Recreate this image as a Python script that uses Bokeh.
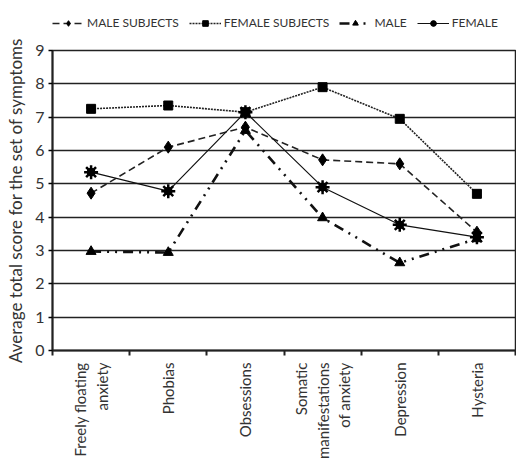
import math
from bokeh.plotting import figure
from bokeh.layouts import column
from bokeh.models import FixedTicker, Legend, LegendItem, Range1d
from bokeh.embed import file_html
from bokeh.resources import INLINE

categories = ["Freely floating\nanxiety", "Phobias", "Obsessions",
              "Somatic\nmanifestations\nof anxiety", "Depression", "Hysteria"]
male_subjects = [4.72, 6.1, 6.7, 5.72, 5.6, 3.55]
female_subjects = [7.25, 7.35, 7.15, 7.9, 6.95, 4.7]
male = [2.97, 2.94, 6.6, 3.98, 2.63, 3.35]
female = [5.35, 4.78, 7.15, 4.9, 3.77, 3.4]
y_ticks = list(range(0, 10))
series_names = ["MALE SUBJECTS", "FEMALE SUBJECTS", "MALE", "FEMALE"]

FONT = "Lato"
TXT = "#333333"
xs = [i + 1 for i in range(len(categories))]

styles = [
    dict(line=dict(line_color="#222222", line_width=1.6, line_dash="7 4"),
         marks=[dict(marker="diamond", size=12, fill_color="black", line_color="black")]),
    dict(line=dict(line_color="#222222", line_width=1.6, line_dash="2 1"),
         marks=[dict(marker="square", size=9, fill_color="black", line_color="black")]),
    dict(line=dict(line_color="#111111", line_width=2.6, line_dash="10 6 2 6 2 6"),
         marks=[dict(marker="triangle", size=10, fill_color="black", line_color="black")]),
    dict(line=dict(line_color="#111111", line_width=1.2),
         marks=[dict(marker="circle", size=8, fill_color="black", line_color="black"),
                dict(marker="asterisk", size=14, line_color="black", line_width=2.5)]),
]
series = [male_subjects, female_subjects, male, female]

W = 516
LEG_H = 34
MAIN_H = 428

# ---------- main chart ----------
p = figure(width=W, height=MAIN_H, output_backend="svg", toolbar_location=None,
           x_range=Range1d(0.5, len(categories) + 0.5), y_range=Range1d(0, 9),
           min_border_left=52, min_border_right=1, min_border_top=16, min_border_bottom=111)
p.outline_line_color = "#222222"
p.outline_line_width = 1.5

p.yaxis.ticker = FixedTicker(ticks=y_ticks)
p.yaxis.axis_label = "Average total score for the set of symptoms"
p.yaxis.axis_label_text_font = FONT
p.yaxis.axis_label_text_font_style = "normal"
p.yaxis.axis_label_text_font_size = "17px"
p.yaxis.axis_label_text_color = TXT
p.yaxis.major_label_text_font = FONT
p.yaxis.major_label_text_font_size = "16px"
p.yaxis.major_label_text_color = TXT
p.yaxis.axis_line_color = "#222222"
p.yaxis.axis_line_width = 2
p.yaxis.major_tick_in = 0
p.yaxis.major_tick_out = 4
p.yaxis.major_tick_line_width = 1.5
p.yaxis.minor_tick_line_color = None
p.yaxis.axis_label_standoff = 6
p.yaxis.major_label_standoff = 4

p.xaxis.ticker = FixedTicker(ticks=xs, minor_ticks=[x - 0.5 for x in xs] + [xs[-1] + 0.5])
p.xaxis.major_label_overrides = {x: c for x, c in zip(xs, categories)}
p.xaxis.major_label_orientation = math.pi / 2
p.xaxis.major_label_text_font = FONT
p.xaxis.major_label_text_font_size = "15px"
p.xaxis.major_label_text_color = TXT
p.xaxis.major_label_standoff = 6
p.xaxis.major_tick_line_color = None
p.xaxis.minor_tick_in = 0
p.xaxis.minor_tick_out = 5
p.xaxis.minor_tick_line_width = 2
p.xaxis.minor_tick_line_color = "#222222"
p.xaxis.axis_line_color = "#222222"
p.xaxis.axis_line_width = 2

p.xgrid.grid_line_color = None
p.ygrid.ticker = FixedTicker(ticks=y_ticks)
p.ygrid.grid_line_color = "#222222"
p.ygrid.grid_line_width = 1.5

for vals, st in zip(series, styles):
    p.line(xs, vals, **st["line"])
    for m in st["marks"]:
        p.scatter(xs, vals, **m)

# ---------- legend strip (series drawn out of view, only the legend shows) ----------
lg = figure(width=W, height=LEG_H, output_backend="svg", toolbar_location=None,
            x_axis_type=None, y_axis_type=None,
            x_range=Range1d(100, 101), y_range=Range1d(100, 101),
            min_border_left=0, min_border_right=0, min_border_top=0, min_border_bottom=0)
lg.outline_line_color = None
lg.xgrid.grid_line_color = None
lg.ygrid.grid_line_color = None
items = []
for name, vals, st in zip(series_names, series, styles):
    rs = [lg.line(xs, vals, **st["line"])]
    for m in st["marks"]:
        rs.append(lg.scatter(xs, vals, **m))
    items.append(LegendItem(label=name, renderers=rs))
legend = Legend(items=items, orientation="horizontal", location=(0, 4),
                border_line_color=None, background_fill_alpha=0,
                label_text_font=FONT, label_text_font_size="12px", label_text_color=TXT,
                glyph_width=32, glyph_height=14, spacing=10, label_standoff=3,
                padding=2, margin=0)
lg.add_layout(legend, "center")

open("out.html", "w").write(file_html(column(lg, p, spacing=0), INLINE))
